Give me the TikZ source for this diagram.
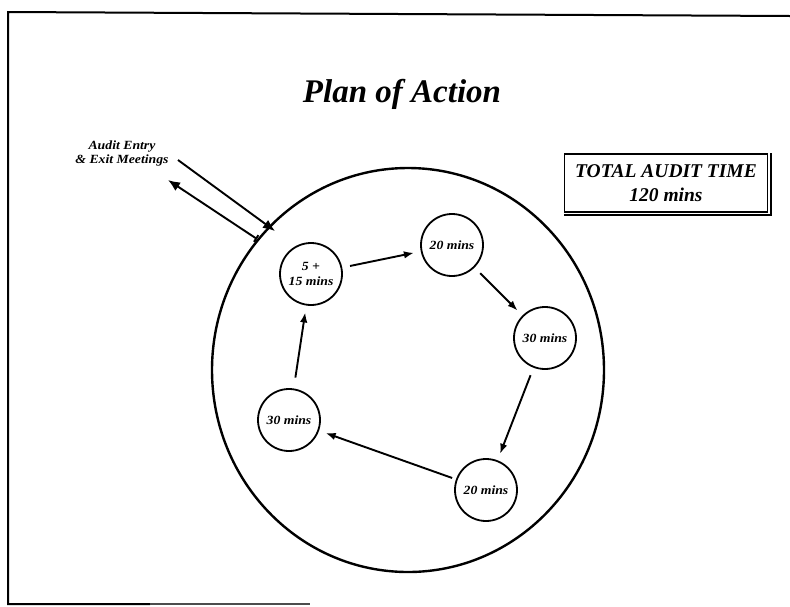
\documentclass[tikz,border=0pt]{standalone}
\usepackage{fontspec}
\setmainfont{Liberation Serif}
\newfontfamily\stagefont{Liberation Serif}[FakeStretch=1.1]
\usetikzlibrary{arrows.meta,shapes.geometric}
\begin{document}
\begin{tikzpicture}[x=1pt,y=-1pt,
  stage/.style={circle,draw,line width=1.8pt,minimum size=62pt,inner sep=0pt,
    font=\stagefont\fontsize{12.5}{14.5}\selectfont\bfseries\itshape,align=center},
  flow/.style={line width=1.9pt,-{Latex[length=10pt,width=7.5pt]},
    shorten <=8pt,shorten >=7pt},
  meetarrow/.style={line width=1.9pt,-{Latex[length=12pt,width=10pt]}}
]
\useasboundingbox (0,0) rectangle (790,606);

% page frame
\draw[line width=2pt] (790,16) -- (8,12) -- (8,604) -- (150,604);
\draw[line width=1.1pt,black!70] (150,604) -- (310,604);

% title
\node[font=\fontsize{33}{38}\selectfont\bfseries\itshape] (title) at (402,94) {Plan of Action};

% total time box
\node[draw,line width=1.4pt,minimum width=203pt,minimum height=58pt,inner sep=0pt,
  align=center,font=\fontsize{19.5}{24}\selectfont\bfseries\itshape] (total) at (666,183)
  {TOTAL AUDIT TIME\\120 mins};
\draw[line width=1.6pt] ([xshift=2.5pt]total.north east) -- ([xshift=2.5pt,yshift=-2pt]total.south east)
  -- ([yshift=-2pt]total.south west);

% outer audit ring
\node[ellipse,draw,line width=2.4pt,minimum width=392pt,minimum height=404pt,inner sep=0pt] (ring) at (408,370) {};

% stages
\node[stage] (s1) at (311,274) {5 +\\15 mins};
\node[stage] (s2) at (452,245) {20 mins};
\node[stage] (s3) at (545,338) {30 mins};
\node[stage] (s4) at (486,490) {20 mins};
\node[stage] (s5) at (289,420) {30 mins};

\draw[flow] (s1) -- (s2);
\draw[flow] (s2) -- (s3);
\draw[flow] (s3) -- (s4);
\draw[flow,shorten <=4pt] (s4) -- (s5);
\draw[flow,shorten <=11pt] (s5) -- (s1);

% entry and exit meetings
\node[align=center,font=\stagefont\fontsize{12.5}{14}\selectfont\bfseries\itshape] (meet) at (122,153)
  {Audit Entry\\\& Exit Meetings};
\coordinate (inA) at (178,160);
\coordinate (inB) at (275,231);
\coordinate (outA) at (257,239);
\coordinate (outB) at (168,180);
\draw[meetarrow] (inA) -- (inB);
\draw[meetarrow,{Bar[width=8pt]}-{Latex[length=12pt,width=10pt]}] (outA) -- (outB);
\end{tikzpicture}
\end{document}
